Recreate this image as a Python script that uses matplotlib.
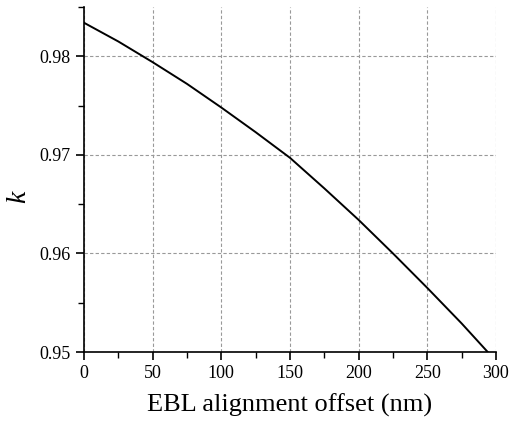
import numpy as np
import matplotlib.pyplot as plt
from matplotlib.ticker import MultipleLocator

plt.rcParams['font.family'] = ['Liberation Serif', 'DejaVu Serif']
plt.rcParams['mathtext.fontset'] = 'custom'
plt.rcParams['mathtext.it'] = 'Liberation Serif:italic'

# coupling coefficient vs alignment offset
offset = [0, 25, 50, 75, 100, 125, 150, 175, 200, 225, 250, 275, 294]
k = [0.9834, 0.9815, 0.9794, 0.9772, 0.9748, 0.9723, 0.9697, 0.9666,
     0.9634, 0.9600, 0.9565, 0.9529, 0.9500]

fig = plt.figure(figsize=(5.1, 4.23), dpi=100)
ax = fig.add_axes([0.1647, 0.1678, 0.8078, 0.8157])

ax.plot(offset, k, color='black', lw=1.4)

ax.set_xlim(0, 300)
ax.set_ylim(0.95, 0.985)
ax.xaxis.set_major_locator(MultipleLocator(50))
ax.xaxis.set_minor_locator(MultipleLocator(25))
ax.yaxis.set_major_locator(MultipleLocator(0.01))
ax.yaxis.set_minor_locator(MultipleLocator(0.005))
ax.yaxis.set_major_formatter(plt.FuncFormatter(lambda v, p: f'{v:.2f}'))

ax.grid(True, which='major', ls=(0, (3, 2)), color='#999999', lw=0.8)
ax.spines['top'].set_visible(False)
ax.spines['right'].set_visible(False)
for s in ('left', 'bottom'):
    ax.spines[s].set_linewidth(1.2)

ax.tick_params(which='major', direction='out', length=6, width=1.2, labelsize=13)
ax.tick_params(which='minor', direction='out', length=4, width=1.0)

ax.set_xlabel('EBL alignment offset (nm)', fontsize=19, labelpad=8)
ax.set_ylabel('$k$', fontsize=20)
ax.yaxis.set_label_coords(-0.125, 0.45)

fig.savefig('out.png', dpi=100)
